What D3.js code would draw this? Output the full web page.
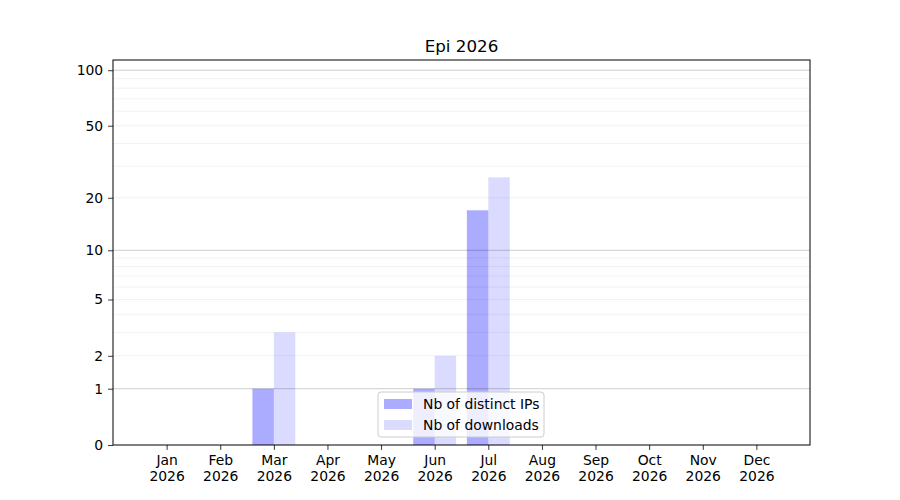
<!DOCTYPE html>
<html>
<head>
<meta charset="utf-8">
<script src="https://cdn.jsdelivr.net/npm/d3@7"></script>
<style>
  body { margin: 0; background: #fff; }
  svg text { font-family: "DejaVu Sans", sans-serif; }
</style>
</head>
<body>
<svg width="900" height="500"></svg>
<script>
// data
var months = ["Jan", "Feb", "Mar", "Apr", "May", "Jun", "Jul", "Aug", "Sep", "Oct", "Nov", "Dec"];
var year = "2026";
var distinctIPs = [0, 0, 1, 0, 0, 1, 17, 0, 0, 0, 0, 0];
var downloads = [0, 0, 3, 0, 0, 2, 26, 0, 0, 0, 0, 0];
var yTicks = [0, 1, 2, 5, 10, 20, 50, 100];
var yMajorGrid = [1, 10, 100];
var yMinorGrid = [2, 3, 4, 5, 6, 7, 8, 9, 20, 30, 40, 50, 60, 70, 80, 90];

var svg = d3.select("svg");
var plotLeft = 113, plotRight = 810, plotTop = 60, plotBottom = 445;

//x in month index units, one empty slot each side
var x = d3.scaleLinear().domain([-1, 12]).range([plotLeft, plotRight]);
//y is log10(1 + v)
var yRaw = d3.scaleLinear().domain([0, 2.059]).range([plotBottom, plotTop]);
function y(v) { return yRaw(Math.log10(1 + v)); }
var barW = 0.4;

//bars
svg.append("g").selectAll("rect").data(distinctIPs).enter().append("rect")
    .attr("x", function(d, i) { return x(i - barW); })
    .attr("width", x(barW) - x(0))
    .attr("y", function(d) { return y(d); })
    .attr("height", function(d) { return plotBottom - y(d); })
    .attr("fill", "#0000ff").attr("fill-opacity", 0.33);
svg.append("g").selectAll("rect").data(downloads).enter().append("rect")
    .attr("x", function(d, i) { return x(i); })
    .attr("width", x(barW) - x(0))
    .attr("y", function(d) { return y(d); })
    .attr("height", function(d) { return plotBottom - y(d); })
    .attr("fill", "#0000ff").attr("fill-opacity", 0.14);

//grid lines, drawn over the bars like the original
svg.append("g").selectAll("line").data(yMinorGrid).enter().append("line")
    .attr("x1", plotLeft).attr("x2", plotRight)
    .attr("y1", function(d) { return y(d); }).attr("y2", function(d) { return y(d); })
    .attr("stroke", "#000").attr("stroke-opacity", 0.07).attr("stroke-width", 0.8);
svg.append("g").selectAll("line").data(yMajorGrid).enter().append("line")
    .attr("x1", plotLeft).attr("x2", plotRight)
    .attr("y1", function(d) { return y(d); }).attr("y2", function(d) { return y(d); })
    .attr("stroke", "#000").attr("stroke-opacity", 0.2).attr("stroke-width", 1);

//axes
var xAxis = d3.axisBottom(x).tickValues(d3.range(12)).tickSize(4.9).tickPadding(4.9).tickFormat(function(i) { return months[i]; });
var gx = svg.append("g").attr("transform", "translate(0," + plotBottom + ")").call(xAxis);
gx.selectAll("text").each(function(i) {
    var t = d3.select(this).text(null);
    t.append("tspan").attr("x", 0).attr("dy", "0.71em").text(months[i]);
    t.append("tspan").attr("x", 0).attr("dy", "1.15em").text(year);
});
var yAxis = d3.axisLeft(yRaw).tickValues(yTicks.map(function(v) { return Math.log10(1 + v); }))
    .tickSize(4.9).tickPadding(4.9)
    .tickFormat(function(d, i) { return yTicks[i]; });
var gy = svg.append("g").attr("transform", "translate(" + plotLeft + ",0)").call(yAxis);
[gx, gy].forEach(function(g) {
    g.select(".domain").remove();
    g.selectAll("text").attr("font-size", 13.9).attr("fill", "#000").attr("font-family", "DejaVu Sans");
    g.selectAll("line").attr("stroke", "#000").attr("stroke-width", 0.8);
});

svg.append("rect").attr("x", plotLeft).attr("y", plotTop).attr("width", plotRight - plotLeft).attr("height", plotBottom - plotTop)
    .attr("fill", "none").attr("stroke", "#000").attr("stroke-width", 1);

svg.append("text").attr("x", (plotLeft + plotRight) / 2).attr("y", 52).attr("text-anchor", "middle")
    .attr("font-size", 16.7).text("Epi " + year);

//legend
var lg = svg.append("g").attr("transform", "translate(378,392)");
lg.append("rect").attr("width", 166).attr("height", 45).attr("rx", 3)
    .attr("fill", "#fff").attr("fill-opacity", 0.8).attr("stroke", "#cccccc").attr("stroke-width", 1);
var entries = [["Nb of distinct IPs", 0.33], ["Nb of downloads", 0.14]];
entries.forEach(function(e, i) {
    lg.append("rect").attr("x", 6).attr("y", 7 + i * 21).attr("width", 28).attr("height", 10)
        .attr("fill", "#0000ff").attr("fill-opacity", e[1]);
    lg.append("text").attr("x", 45).attr("y", 17 + i * 21).attr("font-size", 13.9).text(e[0]);
});
</script>
</body>
</html>
